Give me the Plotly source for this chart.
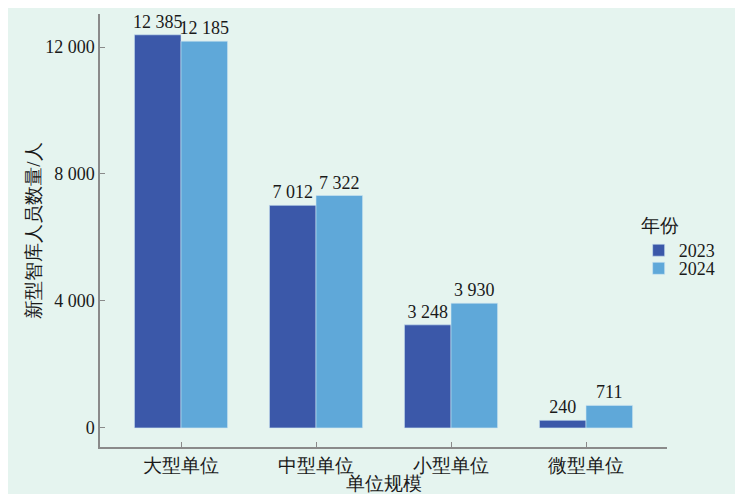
import plotly.graph_objects as go

# data
categories = ["大型单位", "中型单位", "小型单位", "微型单位"]
years = ["2023", "2024"]
values_2023 = [12385, 7012, 3248, 240]
values_2024 = [12185, 7322, 3930, 711]
y_ticks = [0, 4000, 8000, 12000]

colors = {"2023": "#3b58a9", "2024": "#5fa8d9"}
font_family = "Times New Roman, Liberation Serif, serif"

fig = go.Figure()
for year, vals, lg in zip(years, [values_2023, values_2024], ["legend", "legend2"]):
    fig.add_trace(go.Bar(
        x=categories,
        y=vals,
        name=year,
        legend=lg,
        showlegend=True,
        marker=dict(color=colors[year], line=dict(width=0.6, color="#cfe6f2")),
        texttemplate="%{y:,d}",
        textposition="outside",
        cliponaxis=False,
        constraintext="none",
        textfont=dict(size=18, color="#1a1a1a", family=font_family),
    ))

# one legend per year so the two rows can sit as close as in the original
legend_common = dict(
    xanchor="left", yanchor="middle",
    bgcolor="rgba(0,0,0,0)",
    font=dict(size=18),
    itemwidth=30,
    visible=True,
)

fig.update_layout(
    width=735,
    height=486,
    showlegend=True,
    barmode="group",
    bargap=0.31,
    bargroupgap=0,
    separators=". ",
    paper_bgcolor="#e5f4ef",
    plot_bgcolor="#e5f4ef",
    margin=dict(l=92, r=76, t=6, b=47),
    font=dict(family=font_family, size=18, color="#1a1a1a"),
    legend=dict(
        title=dict(text="年份", font=dict(size=19)),
        x=0.95, y=0.482, **legend_common,
    ),
    legend2=dict(
        x=0.95, y=0.412, **legend_common,
    ),
    xaxis=dict(
        range=[-0.6, 3.6],
        automargin=False,
        showline=True, linecolor="#8a8a8a", linewidth=1.5,
        ticks="inside", ticklen=5, tickcolor="#8a8a8a",
        title=dict(text="单位规模", standoff=0, font=dict(size=19)),
        tickfont=dict(size=19),
        showgrid=False,
    ),
    yaxis=dict(
        range=[-600, 13040],
        automargin=False,
        tickvals=y_ticks,
        tickformat=",d",
        showline=True, linecolor="#8a8a8a", linewidth=1.5,
        ticks="inside", ticklen=5, tickcolor="#8a8a8a",
        title=dict(text="新型智库人员数量/人", standoff=0, font=dict(size=19)),
        tickfont=dict(size=18),
        showgrid=False,
        zeroline=False,
    ),
)

fig.write_html("out.html")
